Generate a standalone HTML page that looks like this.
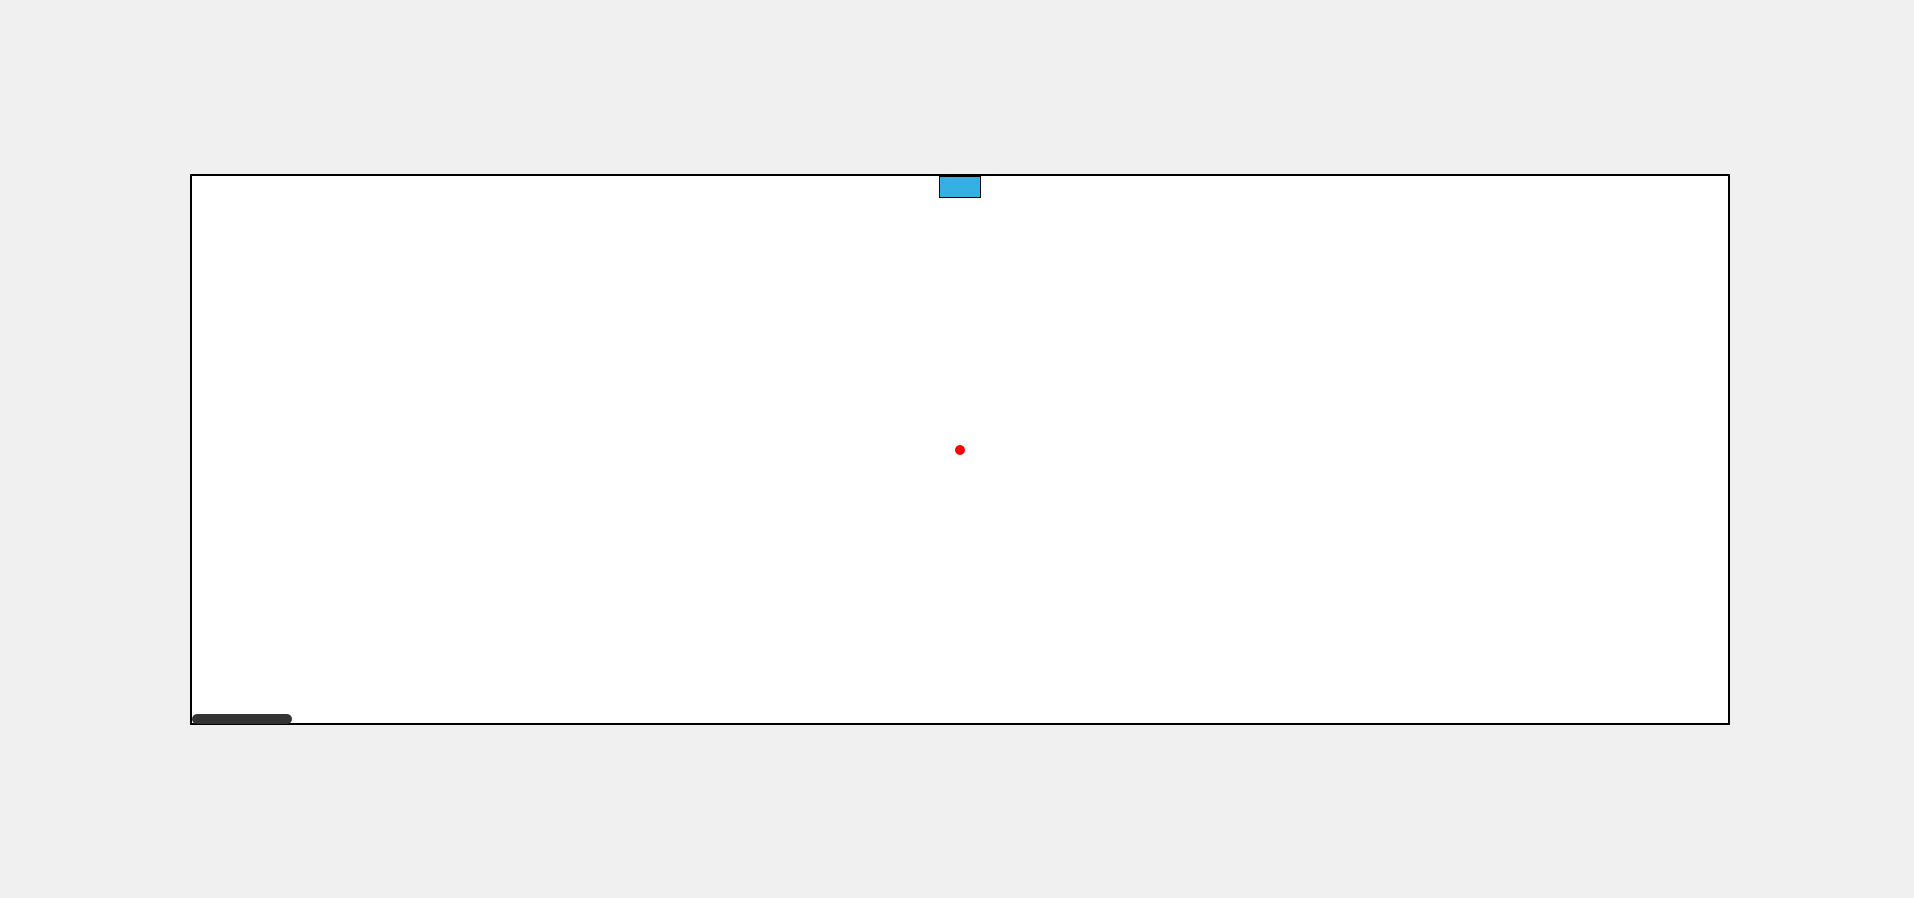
<!DOCTYPE html>
<html><head><meta charset="utf-8"><style>
html,body{margin:0;padding:0;background:#f0f0f0;width:1914px;height:898px;overflow:hidden;font-family:"Liberation Sans",sans-serif}
#box{position:absolute;left:190px;top:174px;width:1536px;height:547px;border:2px solid #000;background:#fff}
#blue{position:absolute;left:939px;top:176px;width:40px;height:20px;background:#35b0e3;border:1px solid #000}
#dot{position:absolute;left:955px;top:445px;width:10px;height:10px;border-radius:50%;background:#f00}
#bar{position:absolute;left:192px;top:714px;width:100px;height:10px;border-radius:5px;background:#333}
</style></head><body>
<div id="box"></div>
<div id="blue"></div>
<div id="dot"></div>
<div id="bar"></div>
</body></html>
